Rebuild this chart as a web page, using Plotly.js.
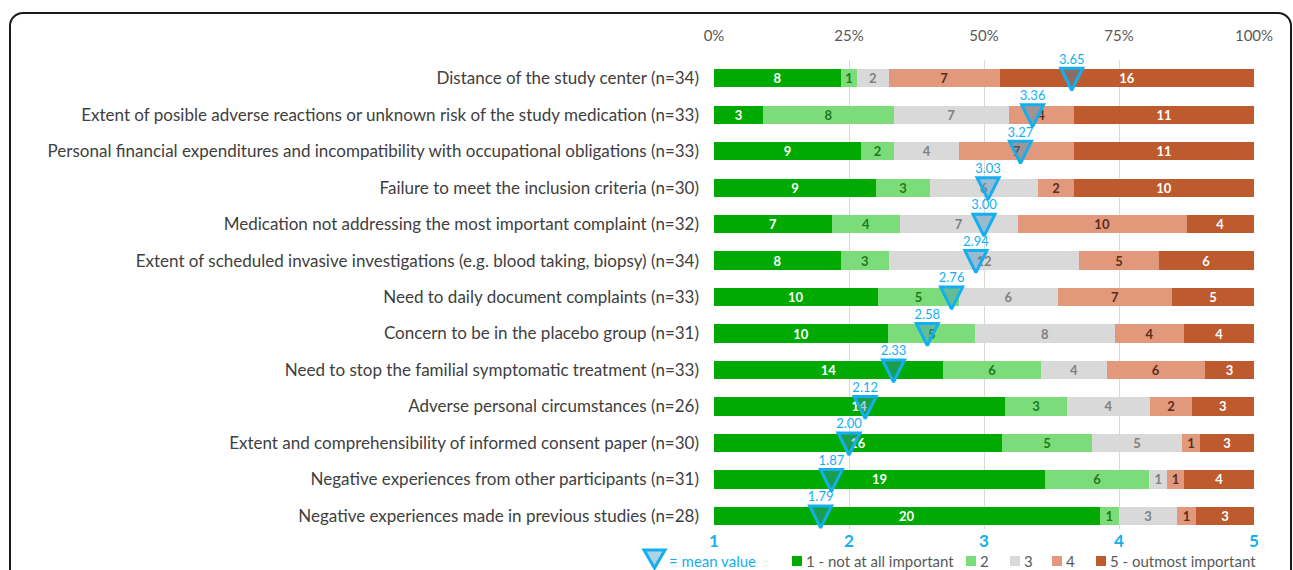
<!DOCTYPE html>
<html><head><meta charset="utf-8">
<script src="https://cdn.plot.ly/plotly-3.0.1.min.js"></script>
<style>
body{margin:0;background:#fff;}
#chart{position:absolute;left:0;top:0;width:1293px;height:570px;}
#frame{position:absolute;left:9px;top:12px;width:1283px;height:600px;box-sizing:border-box;border:2px solid #1a1a1a;border-radius:14px;pointer-events:none;}
</style></head><body>
<div id="chart"></div><div id="frame"></div>
<script>
const categoryNames = [
  'Distance of the study center',
  'Extent of posible adverse reactions or unknown risk of the study medication',
  'Personal financial expenditures and incompatibility with occupational obligations',
  'Failure to meet the inclusion criteria',
  'Medication not addressing the most important complaint',
  'Extent of scheduled invasive investigations (e.g. blood taking, biopsy)',
  'Need to daily document complaints',
  'Concern to be in the placebo group',
  'Need to stop the familial symptomatic treatment',
  'Adverse personal circumstances',
  'Extent and comprehensibility of informed consent paper',
  'Negative experiences from other participants',
  'Negative experiences made in previous studies'
];
const nValues = [34,33,33,30,32,34,33,31,33,26,30,31,28];
const s1 = [8,3,9,9,7,8,10,10,14,14,16,19,20];
const s2 = [1,8,2,3,4,3,5,5,6,3,5,6,1];
const s3 = [2,7,4,6,7,12,6,8,4,4,5,1,3];
const s4 = [7,4,7,2,10,5,7,4,6,2,1,1,1];
const s5 = [16,11,11,10,4,6,5,4,3,3,3,4,3];
const meanValues = [3.65,3.36,3.27,3.03,3.00,2.94,2.76,2.58,2.33,2.12,2.00,1.87,1.79];
const seriesNames = ['1 - not at all important','2','3','4','5 - outmost important'];
const meanLegendName = '= mean value';
const pctTicks = [0,25,50,75,100];
const scaleTicks = [1,2,3,4,5];

const series = [s1,s2,s3,s4,s5];
const barColors = ['#00aa00','#7ddc7a','#d9d9d9','#e2987b','#bd5a2e'];
const textColors = ['#ffffff','#1c7a1c','#808080','#5a2e1e','#ffffff'];
const idx = categoryNames.map((_, i) => i);
const labels = categoryNames.map((c, i) => c + ' (n=' + nValues[i] + ')');
const FONT = 'Lato, "Open Sans", sans-serif';
const BLUE = '#14aff0';
const TRI_FILL = 'rgba(60,140,190,0.4)';

// plot area geometry (pixels)
const W = 1293, H = 570;
const M = {l: 714, r: 39, t: 60, b: 41};
const PW = W - M.l - M.r, PH = H - M.t - M.b;
const px2x = p => (p - M.l) / PW;
const py2y = p => (H - M.b - p) / PH;

const traces = series.map((s, k) => ({
  type: 'bar', orientation: 'h',
  x: s.map((v, i) => v / nValues[i] * 100),
  y: idx,
  width: 0.5,
  name: seriesNames[k],
  showlegend: false,
  marker: {color: barColors[k], line: {width: 0}},
  text: s.map(String),
  textposition: 'inside',
  insidetextanchor: 'middle',
  textangle: 0,
  constraintext: 'none',
  textfont: {family: FONT, size: 13, color: textColors[k], weight: 'bold'},
  hoverinfo: 'skip',
  xaxis: 'x', yaxis: 'y'
}));

traces.push({
  type: 'scatter', mode: 'markers',
  x: meanValues, y: idx.map(i => i + 0.33),
  xaxis: 'x2', yaxis: 'y',
  name: meanLegendName, showlegend: false, cliponaxis: false,
  marker: {symbol: 'arrow-down', size: 22, color: TRI_FILL, line: {color: BLUE, width: 3}},
  hoverinfo: 'skip'
});
traces.push({
  type: 'scatter', mode: 'text',
  x: meanValues, y: idx.map(i => i - 0.49),
  xaxis: 'x2', yaxis: 'y',
  text: meanValues.map(v => v.toFixed(2)),
  textposition: 'middle center', cliponaxis: false,
  textfont: {family: FONT, size: 13, color: BLUE},
  showlegend: false, hoverinfo: 'skip'
});

// legend built from series names/colours (layout decoration)
const legendY = 561;
const legendStarts = [792, 966, 1010, 1052, 1096];
const shapes = [];
const annotations = [];
shapes.push({
  type: 'path', xref: 'paper', yref: 'paper',
  path: 'M' + px2x(644) + ',' + py2y(550) + ' L' + px2x(665) + ',' + py2y(550) + ' L' + px2x(654.5) + ',' + py2y(568) + ' Z',
  fillcolor: TRI_FILL, line: {color: BLUE, width: 3}
});
annotations.push({
  xref: 'paper', yref: 'paper', x: px2x(667), y: py2y(legendY), xanchor: 'left', yanchor: 'middle',
  text: meanLegendName, showarrow: false, font: {family: FONT, size: 15, color: BLUE}
});
seriesNames.forEach((nm, k) => {
  const x0 = legendStarts[k];
  shapes.push({
    type: 'rect', xref: 'paper', yref: 'paper',
    x0: px2x(x0), x1: px2x(x0 + 10), y0: py2y(legendY + 5), y1: py2y(legendY - 5),
    fillcolor: barColors[k], line: {width: 0}
  });
  annotations.push({
    xref: 'paper', yref: 'paper', x: px2x(x0 + 12), y: py2y(legendY), xanchor: 'left', yanchor: 'middle',
    text: nm, showarrow: false, font: {family: FONT, size: 15, color: '#595959'}
  });
});

const layout = {
  width: W, height: H,
  margin: Object.assign({autoexpand: false}, M),
  paper_bgcolor: '#ffffff', plot_bgcolor: '#ffffff',
  barmode: 'stack',
  showlegend: false,
  font: {family: FONT, color: '#404040'},
  xaxis: {
    side: 'top', range: [0, 100], tickvals: pctTicks, ticktext: pctTicks.map(v => v + '%'),
    showgrid: true, gridcolor: '#d9d9d9', gridwidth: 1, zeroline: false, showline: false,
    ticks: '', ticklabelstandoff: 15,
    tickfont: {family: FONT, size: 15, color: '#595959'}, fixedrange: true
  },
  xaxis2: {
    overlaying: 'x', side: 'bottom', range: [1, 5], tickvals: scaleTicks,
    showgrid: false, zeroline: false, showline: false, ticks: '',
    tickfont: {family: FONT, size: 17, color: BLUE, weight: 'bold'}, fixedrange: true
  },
  yaxis: {
    range: [12.36, -0.5], autorange: false, tickvals: idx, ticktext: labels,
    showgrid: false, zeroline: false, showline: false, ticks: '', ticklabelstandoff: 14,
    tickfont: {family: FONT, size: 17, color: '#404040'}, fixedrange: true
  },
  shapes: shapes,
  annotations: annotations
};

Plotly.newPlot('chart', traces, layout, {displayModeBar: false, staticPlot: true});
</script>
</body></html>
